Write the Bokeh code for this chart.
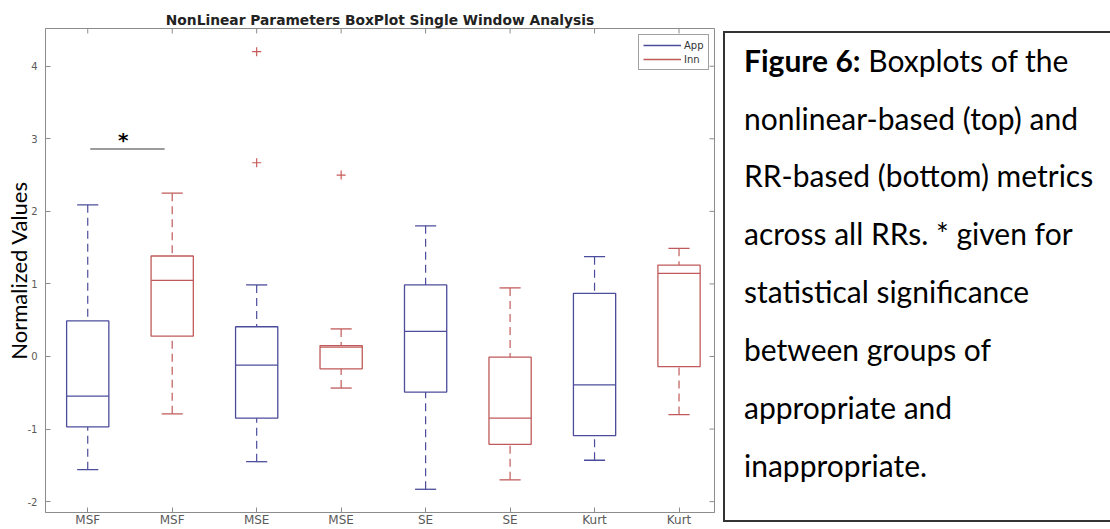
from bokeh.plotting import figure
from bokeh.models import (ColumnDataSource, Range1d, FixedTicker, Legend,
                          LegendItem, Div)
from bokeh.layouts import row
from bokeh.embed import file_html
from bokeh.resources import INLINE
from bokeh.core.properties import value

# ---- box statistics per column (normalized values) ----
tick_labels = ["MSF", "MSF", "MSE", "MSE", "SE", "SE", "Kurt", "Kurt"]
groups = ["App", "Inn", "App", "Inn", "App", "Inn", "App", "Inn"]
lower_whisker = [-1.56, -0.79, -1.45, -0.435, -1.83, -1.70, -1.43, -0.80]
q1 = [-0.97, 0.28, -0.85, -0.17, -0.49, -1.21, -1.09, -0.14]
median = [-0.545, 1.05, -0.12, 0.13, 0.345, -0.85, -0.39, 1.145]
q3 = [0.49, 1.385, 0.41, 0.15, 0.986, -0.01, 0.87, 1.26]
upper_whisker = [2.09, 2.25, 0.986, 0.38, 1.80, 0.945, 1.375, 1.49]

# outliers (column position, value)
outlier_pos = [3, 3, 4]
outlier_val = [4.20, 2.67, 2.50]

# significance bracket between the two MSF columns
sig_x = [1.03, 1.91]
sig_level = 2.86
star_x = 1.42

y_ticks = [-2, -1, 0, 1, 2, 3, 4]
y_tick_labels = ["-2", "-1", "0", "1", "2", "3", "4"]

caption_bold = "Figure 6:"
caption_lines = [
    "Boxplots of the",
    "nonlinear-based (top) and",
    "RR-based (bottom) metrics",
    "across all RRs. * given for",
    "statistical significance",
    "between groups of",
    "appropriate and",
    "inappropriate.",
]

colors = {"App": "#4c4c9c", "Inn": "#c05a5a"}
outlier_color = "#c85a5a"
frame_gray = "#8c8c8c"
label_gray = "#5a5a5a"

positions = list(range(1, len(tick_labels) + 1))
box_half = 0.25
cap_half = 0.125

W, H = 715, 529
border_l, border_r, border_t, border_b = 45, 1, 28, 15
x0, x1 = 0.5, 8.42
y0, y1 = -2.15, 4.52

p = figure(width=W, height=H,
           x_range=Range1d(x0, x1), y_range=Range1d(y0, y1),
           output_backend="svg", toolbar_location=None,
           min_border_left=border_l, min_border_right=border_r,
           min_border_top=border_t, min_border_bottom=border_b)
p.grid.visible = False
p.outline_line_color = frame_gray
p.background_fill_color = "white"

p.title.text = "NonLinear Parameters BoxPlot Single Window Analysis"
p.title.align = "center"
p.title.text_font = "DejaVu Sans"
p.title.text_font_style = "bold"
p.title.text_font_size = "13.8px"
p.title.text_color = "#222222"
p.title.standoff = 2

xa = p.xaxis[0]
xa.ticker = FixedTicker(ticks=positions)
xa.major_label_overrides = {i: lab for i, lab in zip(positions, tick_labels)}
xa.major_tick_in = 5
xa.major_tick_out = 0
xa.minor_tick_line_color = None
xa.axis_line_color = frame_gray
xa.major_tick_line_color = frame_gray
xa.major_label_text_font = "DejaVu Sans"
xa.major_label_text_font_size = "12px"
xa.major_label_text_color = label_gray
xa.major_label_standoff = 0

ya = p.yaxis[0]
ya.ticker = FixedTicker(ticks=y_ticks)
ya.major_label_overrides = {t: lab for t, lab in zip(y_ticks, y_tick_labels)}
ya.major_tick_in = 5
ya.major_tick_out = 0
ya.minor_tick_line_color = None
ya.axis_line_color = frame_gray
ya.major_tick_line_color = frame_gray
ya.major_label_text_font = "DejaVu Sans"
ya.major_label_text_font_size = "10px"
ya.major_label_text_color = label_gray
ya.major_label_standoff = 8
ya.axis_label = "Normalized Values"
ya.axis_label_text_font = "Lato"
ya.axis_label_text_font_style = "normal"
ya.axis_label_text_font_size = "22px"
ya.axis_label_text_color = "black"
ya.axis_label_standoff = -7

# inward tick marks along the top and right edges of the box
frame_w = W - border_l - border_r
frame_h = H - border_t - border_b
tick_px = 5
dy = tick_px * (y1 - y0) / frame_h
dx = tick_px * (x1 - x0) / frame_w
p.segment(x0=positions, x1=positions, y0=[y1] * len(positions),
          y1=[y1 - dy] * len(positions), line_color=frame_gray, line_width=1)
p.segment(x0=[x1] * len(y_ticks), x1=[x1 - dx] * len(y_ticks),
          y0=y_ticks, y1=y_ticks, line_color=frame_gray, line_width=1)

legend_items = []
for g in ["App", "Inn"]:
    idx = [i for i, gg in enumerate(groups) if gg == g]
    x = [positions[i] for i in idx]
    src = ColumnDataSource(dict(
        x=x,
        left=[v - box_half for v in x],
        right=[v + box_half for v in x],
        cl=[v - cap_half for v in x],
        cr=[v + cap_half for v in x],
        lo=[lower_whisker[i] for i in idx],
        q1=[q1[i] for i in idx],
        med=[median[i] for i in idx],
        q3=[q3[i] for i in idx],
        hi=[upper_whisker[i] for i in idx],
    ))
    c = colors[g]
    p.segment(x0="x", x1="x", y0="hi", y1="q3", source=src,
              line_color=c, line_width=1.2, line_dash="8 5")
    p.segment(x0="x", x1="x", y0="lo", y1="q1", source=src,
              line_color=c, line_width=1.2, line_dash="8 5")
    p.segment(x0="cl", x1="cr", y0="hi", y1="hi", source=src,
              line_color=c, line_width=1.3)
    p.segment(x0="cl", x1="cr", y0="lo", y1="lo", source=src,
              line_color=c, line_width=1.3)
    p.quad(left="left", right="right", bottom="q1", top="q3", source=src,
           fill_color=None, line_color=c, line_width=1.3)
    med_r = p.segment(x0="left", x1="right", y0="med", y1="med", source=src,
                      line_color=c, line_width=1.3)
    legend_items.append(LegendItem(label=g, renderers=[med_r]))

p.scatter(x=outlier_pos, y=outlier_val, marker="cross", size=9,
          line_color=outlier_color, line_width=1.2)

p.segment(x0=[sig_x[0]], x1=[sig_x[1]], y0=[sig_level], y1=[sig_level],
          line_color="#7a7a7a", line_width=1.6)
p.text(x=[star_x], y=[sig_level + 0.12], text=["*"],
       text_font=value("DejaVu Sans"), text_font_style="bold",
       text_font_size="20px", text_color="black",
       text_align="center", text_baseline="middle")

legend = Legend(items=legend_items, location=(593, 442))
legend.border_line_color = "#444444"
legend.border_line_width = 1
legend.background_fill_color = "white"
legend.background_fill_alpha = 1
legend.label_text_font = "DejaVu Sans"
legend.label_text_font_size = "10px"
legend.label_text_color = "#333333"
legend.glyph_width = 38
legend.glyph_height = 12
legend.label_height = 12
legend.label_standoff = 3
legend.padding = 4
legend.spacing = 2
legend.margin = 0
p.add_layout(legend)

# ---- caption panel ----
font_px = 30
first_top = 44.6
line_step = 57.85
parts = []
for i, line in enumerate(caption_lines):
    txt = line if i else f"<b>{caption_bold}</b> {line}"
    parts.append(
        f'<div style="position:absolute;left:29px;top:{first_top + i * line_step:.1f}px;'
        f'white-space:nowrap;font-family:Lato;font-size:{font_px}px;'
        f'line-height:{font_px}px;color:#000;">{txt}</div>')
html = (
    '<div style="position:relative;width:395px;height:529px;overflow:hidden;">'
    '<div style="position:absolute;left:8px;top:31px;width:387px;height:491px;'
    'box-sizing:border-box;border:2px solid #333;border-right:none;"></div>'
    + "".join(parts) + "</div>"
)
cap = Div(text=html, width=395, height=529, margin=0)

layout = row(p, cap)
open("out.html", "w").write(file_html(layout, INLINE))
